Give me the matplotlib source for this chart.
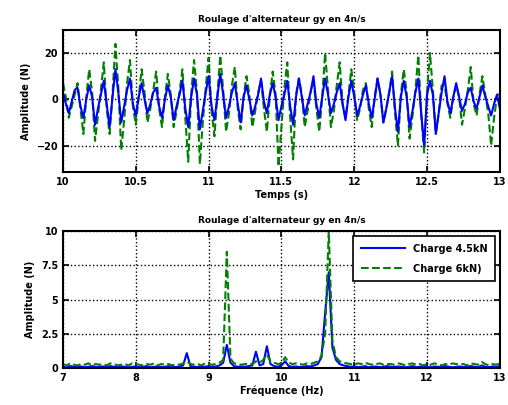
import numpy as np
import matplotlib
matplotlib.use("Agg")
import matplotlib.pyplot as plt

# time signals (N), sampled every 0.02 s from 10 s to 13 s
force_45kN = [3, -2, -6, -1, 4, 5, -3, -8, 0, 6, 1, -11, -4, 2, 8, -2, -12, 1,
              13, 3, -10, -3, 4, 9, -2, -7, 1, 7, 0, -6, -2, 3, 5, -3, -8, 0,
              6, 1, -9, -3, 2, 8, -4, -12, 1, 9, 2, -13, -5, 3, 10, -3, -9, 1,
              11, 2, -8, -3, 3, 7, -2, -10, 1, 6, 0, -7, -3, 2, 9, -1, -6, 2,
              7, 1, -9, -3, 2, 8, -3, -11, 1, 9, 1, -7, -2, 3, 10, -2, -8, 1,
              9, 2, -6, -2, 3, 7, -2, -9, 1, 8, 1, -7, -3, 2, 6, -2, -8, 0,
              9, 2, -10, -4, 3, 10, -4, -14, 1, 8, 1, -12, -5, 3, 9, -6, -20, 2,
              8, 2, -15, -6, 3, 10, -1, -6, 1, 7, 1, -5, -2, 3, 5, -1, -4, 1,
              6, 1, -3, -7, -2, 2, -4]
force_6kN = [7, 1, -8, -3, 2, 7, -4, -15, 1, 13, 3, -18, -7, 4, 16, -4, -15, 2,
             24, 5, -22, -9, 7, 17, -3, -11, 1, 13, 3, -10, -4, 4, 12, -4, -12, 1,
             11, 2, -12, -5, 3, 13, -8, -27, 2, 17, 3, -28, -10, 5, 18, -5, -16, 2,
             19, 4, -14, -6, 6, 14, -4, -13, 1, 10, 2, -12, -5, 3, 8, -4, -14, 1,
             12, 2, -29, -12, 5, 16, -8, -26, 2, 9, 2, -12, -5, 3, 8, -4, -14, 1,
             20, 4, -12, -5, 6, 16, -2, -8, 2, 13, 3, -9, -4, 4, 7, -4, -12, 1,
             9, 2, -10, -4, 3, 12, -6, -20, 2, 13, 3, -17, -7, 4, 19, -7, -23, 3,
             20, 4, -15, -6, 6, 6, -2, -8, 1, 6, 1, -11, -4, 4, 14, -2, -7, 2,
             10, 2, -6, -20, -8, 1, 4]

# spectra (N), every 0.05 Hz from 7 Hz to 13 Hz
spec_45kN = [0.1, 0.05, 0.15, 0.1, 0.08, 0.12, 0.06, 0.1, 0.15, 0.08,
             0.1, 0.12, 0.06, 0.15, 0.1, 0.08, 0.12, 0.1, 0.06, 0.1,
             0.12, 0.08, 0.1, 0.15, 0.06, 0.1, 0.12, 0.08, 0.1, 0.15,
             0.1, 0.08, 0.12, 0.2, 1.1, 0.15, 0.1, 0.08, 0.12, 0.1,
             0.15, 0.1, 0.12, 0.2, 0.4, 1.7, 0.4, 0.15, 0.1, 0.12,
             0.1, 0.15, 0.2, 1.2, 0.2, 0.3, 1.6, 0.3, 0.15, 0.1,
             0.2, 0.5, 0.15, 0.1, 0.12, 0.08, 0.1, 0.15, 0.12, 0.2,
             0.3, 0.8, 4.0, 7.0, 1.5, 0.6, 0.3, 0.2, 0.15, 0.1,
             0.12, 0.08, 0.1, 0.15, 0.06, 0.1, 0.12, 0.08, 0.1, 0.15,
             0.1, 0.08, 0.12, 0.1, 0.06, 0.1, 0.15, 0.08, 0.1, 0.12,
             0.1, 0.06, 0.12, 0.1, 0.08, 0.15, 0.1, 0.06, 0.1, 0.12,
             0.08, 0.1, 0.15, 0.1, 0.06, 0.2, 0.1, 0.08, 0.12, 0.1, 0.15]
spec_6kN = [0.3, 0.2, 0.35, 0.25, 0.2, 0.3, 0.25, 0.35, 0.2, 0.3,
            0.25, 0.3, 0.2, 0.35, 0.3, 0.2, 0.25, 0.3, 0.2, 0.35,
            0.3, 0.25, 0.2, 0.3, 0.25, 0.35, 0.2, 0.3, 0.25, 0.3,
            0.2, 0.3, 0.25, 0.35, 0.5, 0.3, 0.25, 0.3, 0.2, 0.35,
            0.3, 0.25, 0.3, 0.4, 0.6, 8.5, 0.7, 0.35, 0.3, 0.25,
            0.3, 0.35, 0.3, 0.5, 0.4, 0.6, 1.0, 0.5, 0.4, 0.3,
            0.35, 0.8, 0.4, 0.3, 0.35, 0.3, 0.25, 0.35, 0.3, 0.4,
            0.5, 0.9, 2.5, 10.0, 2.0, 0.8, 0.5, 0.4, 0.35, 0.3,
            0.25, 0.35, 0.3, 0.4, 0.3, 0.25, 0.3, 0.35, 0.25, 0.3,
            0.3, 0.25, 0.35, 0.3, 0.2, 0.3, 0.35, 0.25, 0.3, 0.2,
            0.3, 0.25, 0.35, 0.3, 0.2, 0.3, 0.25, 0.35, 0.3, 0.25,
            0.3, 0.2, 0.35, 0.3, 0.25, 0.45, 0.3, 0.2, 0.3, 0.25, 0.35]

t = np.linspace(10, 13, len(force_6kN))
f = np.linspace(7, 13, len(spec_6kN))

title = "Roulage d'alternateur gy en 4n/s"
labels = ["Charge 4.5kN", "Charge 6kN)"]
blue = (0, 0, 1)
green = (0, 0.5, 0)

plt.rcParams['font.family'] = 'DejaVu Sans'
plt.rcParams['font.size'] = 7
plt.rcParams['font.weight'] = 'bold'

fig = plt.figure(figsize=(5.08, 4.05), dpi=100)
ax1 = fig.add_axes([0.124, 0.575, 0.860, 0.351])
ax2 = fig.add_axes([0.124, 0.091, 0.860, 0.338])

ax1.plot(t, force_6kN, color=green, linestyle='--', linewidth=1.5)
ax1.plot(t, force_45kN, color=blue, linewidth=1.5)
ax1.set_xlim(10, 13)
ax1.set_ylim(-31.5, 30)
ax1.set_xticks([10, 10.5, 11, 11.5, 12, 12.5, 13])
ax1.set_xticklabels(['10', '10.5', '11', '11.5', '12', '12.5', '13'])
ax1.set_yticks([-20, 0, 20])
ax1.set_xlabel('Temps (s)', fontweight='bold', labelpad=2)
ax1.set_ylabel('Amplitude (N)', fontweight='bold')
ax1.set_title(title, fontweight='bold', fontsize=6.5, pad=6)

l1, = ax2.plot(f, spec_45kN, color=blue, linewidth=1.5)
l2, = ax2.plot(f, spec_6kN, color=green, linestyle='--', linewidth=1.5)
ax2.set_xlim(7, 13)
ax2.set_ylim(0, 10)
ax2.set_xticks([7, 8, 9, 10, 11, 12, 13])
ax2.set_yticks([0, 2.5, 5, 7.5, 10])
ax2.set_yticklabels(['0', '2.5', '5', '7.5', '10'])
ax2.set_xlabel('Fréquence (Hz)', fontweight='bold', labelpad=2)
ax2.set_ylabel('Amplitude (N)', fontweight='bold')
ax2.set_title(title, fontweight='bold', fontsize=6.5, pad=6)
leg = ax2.legend([l1, l2], labels, loc='upper right', fancybox=False,
                 framealpha=1, edgecolor='black', fontsize=7,
                 handlelength=4.5, borderaxespad=0.5, borderpad=0.8,
                 labelspacing=1.0)
leg.get_frame().set_linewidth(1.2)

for ax in (ax1, ax2):
    ax.grid(True, color='black', linestyle=':', linewidth=1)
    ax.tick_params(direction='in', top=True, right=True, length=4, width=1.2)
    for s in ax.spines.values():
        s.set_linewidth(1.5)

plt.savefig('out.png', dpi=100)
